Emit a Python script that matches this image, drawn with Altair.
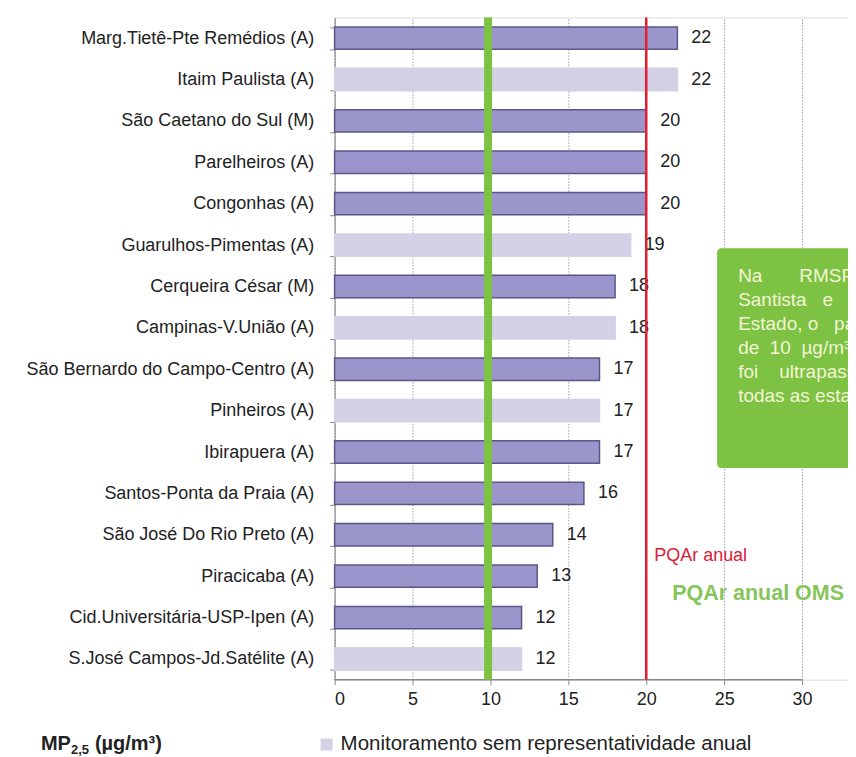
import altair as alt
import pandas as pd

stations = [
    "Marg.Tietê-Pte Remédios (A)",
    "Itaim Paulista (A)",
    "São Caetano do Sul (M)",
    "Parelheiros (A)",
    "Congonhas (A)",
    "Guarulhos-Pimentas (A)",
    "Cerqueira César (M)",
    "Campinas-V.União (A)",
    "São Bernardo do Campo-Centro (A)",
    "Pinheiros (A)",
    "Ibirapuera (A)",
    "Santos-Ponta da Praia (A)",
    "São José Do Rio Preto (A)",
    "Piracicaba (A)",
    "Cid.Universitária-USP-Ipen (A)",
    "S.José Campos-Jd.Satélite (A)",
]
values = [22, 22, 20, 20, 20, 19, 18, 18, 17, 17, 17, 16, 14, 13, 12, 12]
representative = ["sim", "não", "sim", "sim", "sim", "não", "sim", "não",
                  "sim", "não", "sim", "sim", "sim", "sim", "sim", "não"]
x_ticks = [0, 5, 10, 15, 20, 25, 30]
axis_extent = [0, 30]
x_view_max = 32.95          # plot area runs on to the right edge (box is cut there)
pqar_annual = 20
oms_annual = 9.85
NB = "\u00a0"
box_lines = [
    "Na" + NB * 7 + "RMSP," + NB * 2 + "Baixada",
    "Santista" + NB * 3 + "e" + NB * 7 + "interior do",
    "Estado," + NB + "o" + NB * 3 + "padrão anual",
    "de" + NB * 2 + "10" + NB * 2 + "µg/m³" + NB * 2 + "da OMS",
    "foi" + NB * 4 + "ultrapassado em",
    "todas as estações.",
]

DARK = "#9a96cc"
DARK_STROKE = "#5a5686"
LIGHT = "#d4d0e6"
RED = "#e0202e"
GREEN = "#7dc242"
FONT = "Liberation Sans"
W, H = 514, 663

df = pd.DataFrame({"station": stations, "value": values, "rep": representative})

y_enc = alt.Y(
    "station:N", sort=stations,
    scale=alt.Scale(paddingInner=0.46, paddingOuter=0.23),
    axis=alt.Axis(title=None, tickBand="extent", labelFont=FONT, labelFontSize=18,
                  labelColor="#222222", tickSize=5, labelPadding=16, labelLimit=400,
                  domainColor="#8a8a8a", tickColor="#8a8a8a", grid=False),
)
x_enc = alt.X(
    "value:Q",
    scale=alt.Scale(domain=[0, x_view_max], nice=False, zero=True),
    axis=alt.Axis(values=x_ticks, title=None, grid=True, gridDash=[1.5, 1.5],
                  gridColor="#9c9cab", gridWidth=1, labelFont=FONT, labelFontSize=18,
                  labelColor="#222222", tickSize=5, labelPadding=6, domain=False,
                  tickColor="#8a8a8a"),
)

base = alt.Chart(df)
bars = base.mark_bar(strokeWidth=1.5).encode(
    x=x_enc, y=y_enc,
    color=alt.Color("rep:N", scale=alt.Scale(domain=["sim", "não"], range=[DARK, LIGHT]), legend=None),
    stroke=alt.Stroke("rep:N", scale=alt.Scale(domain=["sim", "não"], range=[DARK_STROKE, LIGHT]), legend=None),
)
labels = base.mark_text(align="left", baseline="middle", dx=14, font=FONT, fontSize=18,
                        color="#222222").encode(
    x="value:Q", y=alt.Y("station:N", sort=stations), text="value:Q")

axis_line = alt.Chart(pd.DataFrame({"a": [axis_extent[0]], "b": [axis_extent[1]]})).mark_rule(
    color="#8a8a8a", strokeWidth=1.5).encode(x="a:Q", x2="b:Q", y=alt.value(H))

red_rule = alt.Chart(pd.DataFrame({"v": [pqar_annual]})).mark_rule(
    color=RED, strokeWidth=2.5).encode(x="v:Q")
green_rule = alt.Chart(pd.DataFrame({"v": [oms_annual]})).mark_rule(
    color=GREEN, strokeWidth=8).encode(x="v:Q")

red_txt = alt.Chart(pd.DataFrame({"v": [pqar_annual], "t": ["PQAr anual"]})).mark_text(
    align="left", baseline="middle", dx=8, font=FONT, fontSize=18, color="#d9203a"
).encode(x="v:Q", y=alt.value(539), text="t:N")
green_txt = alt.Chart(pd.DataFrame({"t": ["PQAr anual OMS"]})).mark_text(
    align="left", baseline="middle", font=FONT, fontSize=21.5, fontWeight="bold", color="#86c55a"
).encode(x=alt.value(338), y=alt.value(577), text="t:N")

box = alt.Chart(pd.DataFrame({"a": [1]})).mark_rect(color=GREEN, cornerRadius=4, clip=True).encode(
    x=alt.value(383), x2=alt.value(640), y=alt.value(231), y2=alt.value(451))
box_txt = alt.Chart(pd.DataFrame({"a": [1]})).mark_text(
    align="left", baseline="middle", font=FONT, fontSize=19, color="#f3f6d6",
    lineHeight=24, text=box_lines, clip=True,
).encode(x=alt.value(404), y=alt.value(259))

mp = alt.Chart(pd.DataFrame({"t": ["MP"]})).mark_text(
    align="left", baseline="middle", font=FONT, fontSize=20, fontWeight="bold", color="#222222"
).encode(x=alt.value(-294), y=alt.value(727), text="t:N")
mp_sub = alt.Chart(pd.DataFrame({"t": ["2,5"]})).mark_text(
    align="left", baseline="middle", font=FONT, fontSize=13, fontWeight="bold", color="#222222"
).encode(x=alt.value(-264), y=alt.value(733), text="t:N")
mp_unit = alt.Chart(pd.DataFrame({"t": ["(µg/m³)"]})).mark_text(
    align="left", baseline="middle", font=FONT, fontSize=20, fontWeight="bold", color="#222222"
).encode(x=alt.value(-240), y=alt.value(727), text="t:N")

leg_sq = alt.Chart(pd.DataFrame({"a": [1]})).mark_rect(color=LIGHT).encode(
    x=alt.value(-14), x2=alt.value(-2), y=alt.value(722), y2=alt.value(734))
leg_txt = alt.Chart(pd.DataFrame({"t": ["Monitoramento sem representatividade anual"]})).mark_text(
    align="left", baseline="middle", font=FONT, fontSize=20.5, color="#222222"
).encode(x=alt.value(6), y=alt.value(727), text="t:N")

chart = alt.layer(
    bars, labels, axis_line, red_rule, green_rule, red_txt, green_txt, box, box_txt,
    mp, mp_sub, mp_unit, leg_sq, leg_txt
).properties(
    width=W, height=H,
    padding={"left": 17, "top": 0, "right": 0, "bottom": 0},
).configure_view(stroke=None).configure(background="white")

chart.save("out.html", embed_options={"renderer": "svg", "actions": False})
